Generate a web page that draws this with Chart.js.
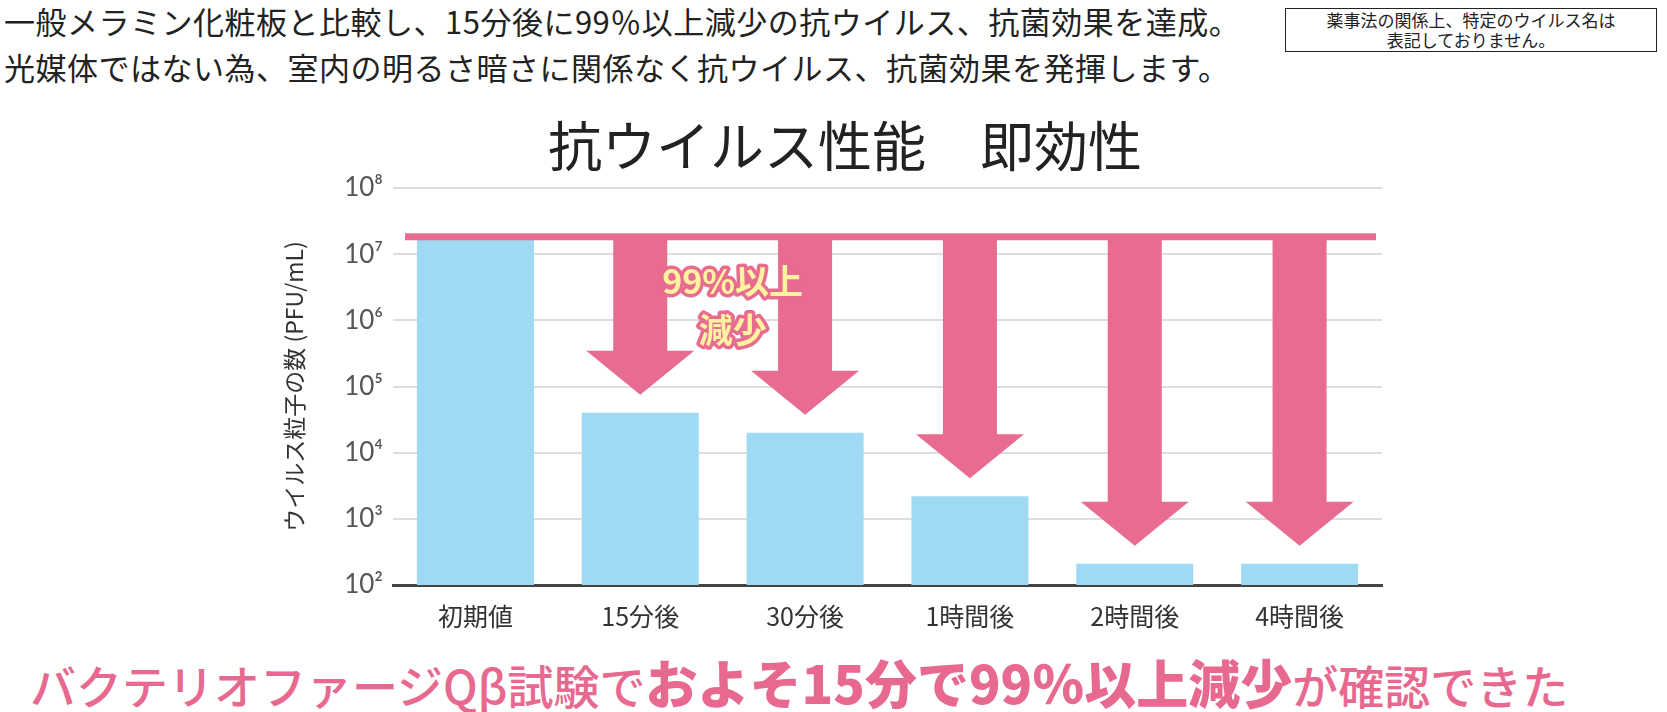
<!DOCTYPE html>
<html><head><meta charset="utf-8">
<script src="https://cdn.jsdelivr.net/npm/chart.js@4"></script>
<style>
body{margin:0;width:1667px;height:712px;background:#fff;position:relative;overflow:hidden;font-family:"Noto Sans CJK JP",sans-serif;}
.h{position:absolute;left:4px;font-size:31px;color:#222;white-space:nowrap;letter-spacing:0.5px;}
#box{position:absolute;left:1285px;top:8px;width:372px;height:44px;border:1.5px solid #222;font-size:17px;text-align:center;line-height:20px;color:#222;padding-top:1px;box-sizing:border-box;}
#title{position:absolute;left:495px;top:104px;width:700px;text-align:center;font-size:54px;color:#222;}
#bottom{position:absolute;left:30px;top:644px;font-size:46px;color:#e8698f;white-space:nowrap;font-weight:500;}
#bottom b{font-weight:900;font-size:52px;}
#wrap{position:absolute;left:280px;top:160px;width:1110px;height:480px;}
</style></head><body>
<div class="h" style="top:-2px">一般メラミン化粧板と比較し、15分後に99％以上減少の抗ウイルス、抗菌効果を達成。</div>
<div class="h" style="top:44px">光媒体ではない為、室内の明るさ暗さに関係なく抗ウイルス、抗菌効果を発揮します。</div>
<div id="box">薬事法の関係上、特定のウイルス名は<br>表記しておりません。</div>
<div id="title">抗ウイルス性能　即効性</div>
<div id="wrap"><canvas id="c" width="1110" height="480"></canvas></div>
<div id="bottom">バクテリオファージQβ試験で<b>およそ15分で99％以上減少</b>が確認できた</div>
<script>
const categories=["初期値","15分後","30分後","1時間後","2時間後","4時間後"];
const values=[1.8e7,4e4,2e4,2.2e3,2.1e2,2.1e2];
const tickLabels={100:"10²",1000:"10³",10000:"10⁴",100000:"10⁵",1000000:"10⁶",10000000:"10⁷",100000000:"10⁸"};
const PINK="#e86b90";
const deco={id:"deco",afterDatasetsDraw(ch){
 const ctx=ch.ctx,x=ch.scales.x,y=ch.scales.y;
 const ly=y.getPixelForValue(values[0])-1;
 ctx.save();ctx.fillStyle=PINK;
 ctx.fillRect(125,ly-3,971,7);
 const meta=ch.getDatasetMeta(0);
 for(let i=1;i<values.length;i++){
  const bx=meta.data[i].x, tip=y.getPixelForValue(values[i])-18;
  const hw=54, sw=27, hh=44;
  ctx.beginPath();
  ctx.moveTo(bx-sw,ly);ctx.lineTo(bx+sw,ly);ctx.lineTo(bx+sw,tip-hh);ctx.lineTo(bx+hw,tip-hh);
  ctx.lineTo(bx,tip);ctx.lineTo(bx-hw,tip-hh);ctx.lineTo(bx-sw,tip-hh);ctx.closePath();ctx.fill();
 }
 const cx=(meta.data[1].x+meta.data[2].x)/2;
 ctx.font="bold 34px 'Noto Sans CJK JP'";ctx.textAlign="center";ctx.textBaseline="middle";
 ctx.lineJoin="round";ctx.lineWidth=7;ctx.strokeStyle=PINK;ctx.fillStyle="#fff3a0";
 [["99%以上",cx+10,ly+45],["減少",cx+10,ly+94]].forEach(t=>{ctx.strokeText(t[0],t[1],t[2]);ctx.fillText(t[0],t[1],t[2]);});
 ctx.restore();
}};
new Chart(document.getElementById("c"),{type:"bar",
 data:{labels:categories,datasets:[{data:values,backgroundColor:"#9fdaf5",barPercentage:0.71,categoryPercentage:1}]},
 plugins:[deco],
 options:{responsive:false,animation:false,devicePixelRatio:1,
  layout:{padding:{top:28,right:8}},
  plugins:{legend:{display:false},tooltip:{enabled:false}},
  scales:{
   y:{type:"logarithmic",min:100,max:1e8,
    afterBuildTicks(s){s.ticks=Object.keys(tickLabels).map(v=>({value:+v}));},
    afterFit(s){s.width=113;},
    ticks:{callback:v=>tickLabels[v]||"",font:{size:26,family:"Lato"},color:"#555",padding:10},
    grid:{color:"#dddddd",lineWidth:2,drawTicks:false},border:{display:false},
    title:{display:true,text:"ウイルス粒子の数 (PFU/mL)",font:{size:23,family:"Noto Sans CJK JP"},color:"#333",padding:0}},
   x:{afterFit(s){s.height=55;},
    ticks:{font:{size:25,family:"Noto Sans CJK JP"},color:"#333",padding:8,maxRotation:0},
    grid:{display:false},border:{color:"#444",width:3}}
  }}});
</script>
</body></html>
